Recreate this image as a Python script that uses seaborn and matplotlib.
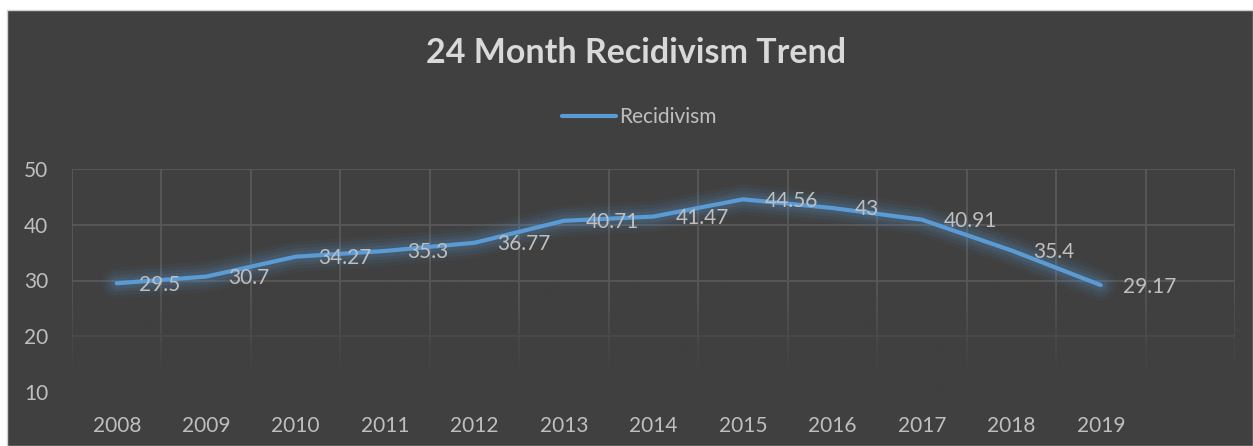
import numpy as np
import pandas as pd
import matplotlib
matplotlib.use("Agg")
import matplotlib.pyplot as plt
import matplotlib.colors as mcolors
import seaborn as sns
from matplotlib.patches import Rectangle
from matplotlib.lines import Line2D

years = ["2008", "2009", "2010", "2011", "2012", "2013", "2014", "2015", "2016", "2017", "2018", "2019"]
recidivism = [29.5, 30.7, 34.27, 35.3, 36.77, 40.71, 41.47, 44.56, 43, 40.91, 35.4, 29.17]
yticks = [10, 20, 30, 40, 50]

sns.set_theme(style="dark")
plt.rcParams['font.family'] = ['Lato', 'DejaVu Sans']

BG = "#404040"
GRID = "#595959"
BLUE = "#5B9BD5"
TXT = "#BFBFBF"

W, H = 1253, 446
fig = plt.figure(figsize=(W / 100, H / 100), dpi=100, facecolor="white")
fig.patches.append(Rectangle((6.5 / W, 0), 1 - 6.5 / W, (H - 9.5) / H, transform=fig.transFigure,
                             facecolor=BG, edgecolor="#D0D0D0", linewidth=1, zorder=-10))

ax = fig.add_axes([72 / W, (H - 392) / H, (1235 - 72) / W, (392 - 169) / H])
ax.set_zorder(1)
ax.set_facecolor(BG)
for s in ax.spines.values():
    s.set_visible(False)

df = pd.DataFrame({"x": np.arange(len(years)), "Year": years, "Recidivism": recidivism})
xpos = df["x"].to_numpy()

ax.set_xlim(-0.5, 12.5)
ax.set_ylim(10, 50)

# grid
for yv in yticks:
    ax.axhline(yv, color=GRID, lw=1.3, zorder=1)
for xv in np.arange(-0.5, 13.0, 1.0):
    ax.axvline(xv, color=GRID, lw=1.3, zorder=1)

# fading overlay at bottom
grad = np.zeros((100, 2, 4))
r, g, b = mcolors.to_rgb(BG)
grad[..., 0], grad[..., 1], grad[..., 2] = r, g, b
alpha = np.clip((30 - np.linspace(10, 50, 100)) / (30 - 13), 0, 1)
grad[..., 3] = alpha[:, None]
ax.imshow(grad, extent=(-0.5, 12.5, 10, 50), origin="lower", aspect="auto", zorder=2,
          interpolation="bilinear")

# glow
for lw, a in [(22, 0.05), (17, 0.07), (12, 0.09), (8, 0.12)]:
    ax.plot(xpos, recidivism, color=BLUE, lw=lw, alpha=a, solid_capstyle="round",
            solid_joinstyle="round", zorder=3)

sns.lineplot(data=df, x="x", y="Recidivism", ax=ax, color=BLUE, linewidth=3.0,
             zorder=4, legend=False)
ax.lines[-1].set_solid_capstyle("round")

for xv, yv in zip(xpos, recidivism):
    ax.annotate(f"{yv:g}", (xv, yv), xytext=(16, -1), textcoords="offset points",
                ha="left", va="center", color=TXT, fontsize=15, zorder=5)

ax.set_xticks(xpos)
ax.set_xticklabels(years)
ax.set_yticks(yticks)
ax.tick_params(axis="both", colors=TXT, labelsize=15, length=0)
ax.tick_params(axis="x", pad=17)
ax.tick_params(axis="y", pad=34.5)
for lab in ax.get_yticklabels():
    lab.set_horizontalalignment("left")
ax.set_xlabel("")
ax.set_ylabel("")
ax.grid(False)

fig.text(636 / W, (H - 53) / H, "24 Month Recidivism Trend", ha="center", va="center",
         color="#D9D9D9", fontsize=24.5, fontweight="bold")

handle = Line2D([], [], color=BLUE, lw=3.0, solid_capstyle="round")
fig.legend([handle], ["Recidivism"], loc="center", bbox_to_anchor=(639 / W, (H - 117) / H),
           frameon=False, fontsize=15, handlelength=2.6, handletextpad=0.15, labelcolor=TXT)

fig.savefig("out.png", dpi=100, facecolor="white")
